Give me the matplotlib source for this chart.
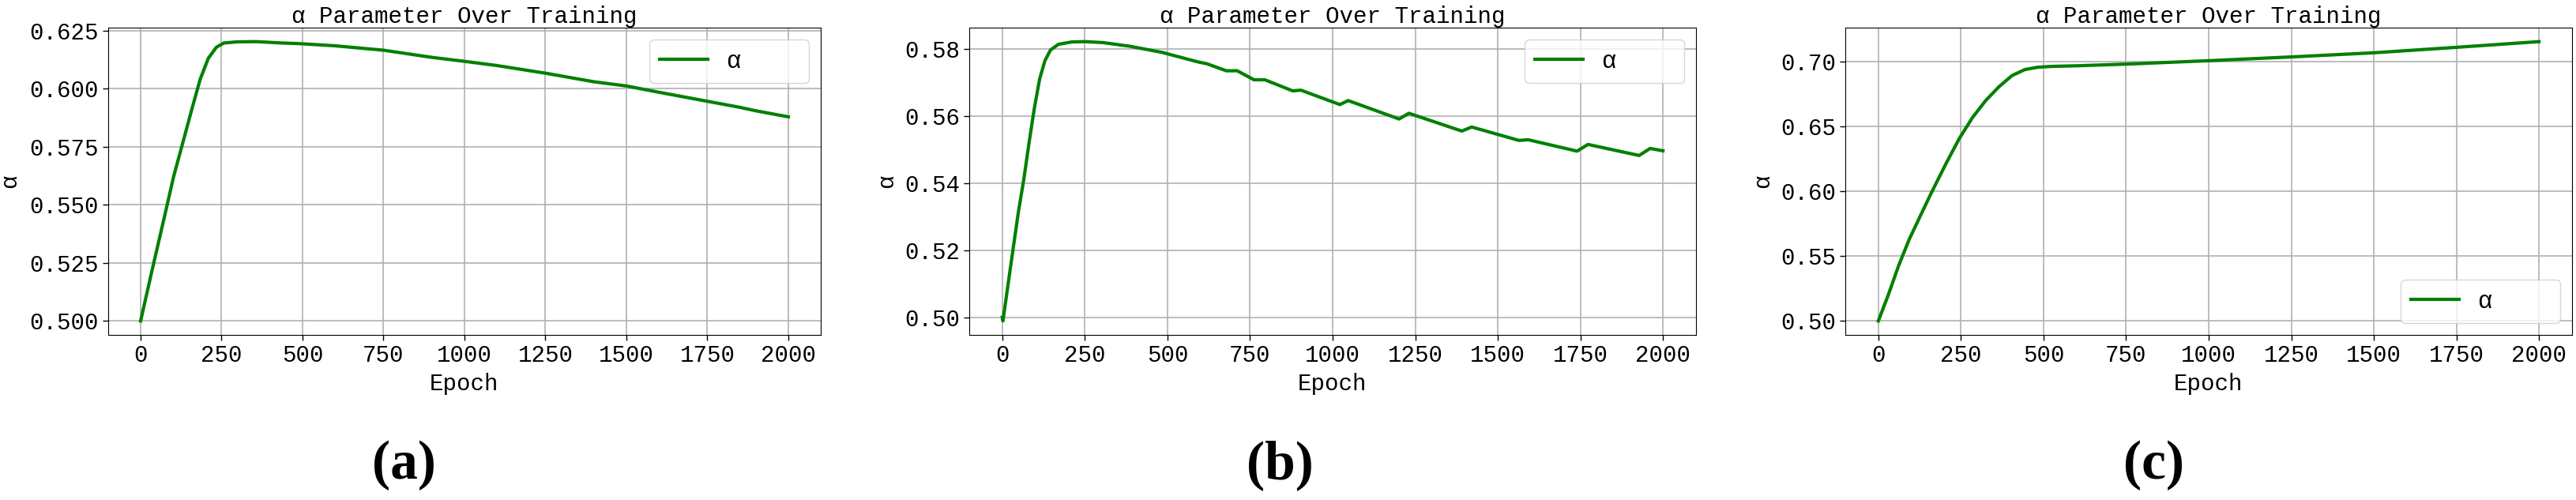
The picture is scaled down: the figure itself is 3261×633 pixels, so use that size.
import matplotlib
matplotlib.use("Agg")
import matplotlib.pyplot as plt

plt.rcParams['font.family'] = ['Liberation Mono', 'DejaVu Sans Mono']
plt.rcParams['font.size'] = 21

# run (a)
epoch_a = [0, 36, 69, 102, 135, 159, 184, 209, 234, 257, 298, 356, 438, 495, 600, 750,
           900, 1000, 1100, 1250, 1400, 1500, 1600, 1750, 1850, 1900, 2000]
alpha_a = [0.500, 0.5222, 0.5421, 0.5622, 0.5792, 0.5916, 0.6041, 0.6131, 0.6179, 0.6197,
           0.6202, 0.6203, 0.6197, 0.6194, 0.6185, 0.6166, 0.6135, 0.6118, 0.6100, 0.6067,
           0.6030, 0.6012, 0.5985, 0.5946, 0.5920, 0.5905, 0.5879]

# run (b)
epoch_b = [0, 2, 17, 33, 49, 65, 81, 97, 113, 129, 146, 170, 210, 250, 306, 387, 483, 594,
           619, 678, 711, 762, 795, 879, 904, 1022, 1047, 1201, 1231, 1391, 1421, 1564,
           1592, 1740, 1773, 1928, 1961, 2000]
alpha_b = [0.500, 0.4989, 0.5095, 0.5206, 0.5316, 0.5411, 0.5521, 0.5624, 0.5711, 0.5766,
           0.5798, 0.5815, 0.5822, 0.5823, 0.5820, 0.5809, 0.5791, 0.5762, 0.5757, 0.5736,
           0.5736, 0.5709, 0.5709, 0.5676, 0.5678, 0.5635, 0.5647, 0.5592, 0.5609, 0.5556,
           0.5568, 0.5528, 0.5530, 0.5496, 0.5516, 0.5483, 0.5504, 0.5497]

# run (c)
epoch_c = [0, 30, 61, 93, 125, 161, 205, 245, 285, 325, 365, 405, 444, 484, 524, 604,
           764, 1000, 1250, 1500, 1750, 2000]
alpha_c = [0.500, 0.520, 0.5423, 0.5626, 0.5798, 0.5990, 0.6213, 0.6405, 0.6567, 0.6698,
           0.6804, 0.6891, 0.6937, 0.6955, 0.6961, 0.6966, 0.698, 0.7005, 0.7034, 0.7066,
           0.7108, 0.7152]

xticks = [0, 250, 500, 750, 1000, 1250, 1500, 1750, 2000]

panels = [
    (epoch_a, alpha_a, [0.500, 0.525, 0.550, 0.575, 0.600, 0.625], '%.3f', 'upper right', '(a)'),
    (epoch_b, alpha_b, [0.50, 0.52, 0.54, 0.56, 0.58], '%.2f', 'upper right', '(b)'),
    (epoch_c, alpha_c, [0.50, 0.55, 0.60, 0.65, 0.70], '%.2f', 'lower right', '(c)'),
]

W, H = 3262, 633
fig = plt.figure(figsize=(W / 100, H / 100), dpi=100)

# axes boxes in pixels: left, right, top, bottom
boxes = [(137, 1039, 35, 424), (1227, 2147, 35, 424), (2336, 3256, 35, 424)]
ylab_x = [-0.123, -0.099, -0.099]
caption_x = [511, 1620, 2727]

for i, (ep, al, yt, fmt, loc, cap) in enumerate(panels):
    l, r, t, b = boxes[i]
    ax = fig.add_axes([l / W, (H - b) / H, (r - l) / W, (b - t) / H])
    ax.plot(ep, al, color='green', lw=3, label='α    ')
    ax.set_xticks(xticks)
    ax.set_yticks(yt)
    ax.yaxis.set_major_formatter(matplotlib.ticker.FormatStrFormatter(fmt))
    ax.grid(True, color='#b0b0b0', lw=1.2)
    ax.set_title('α Parameter Over Training', fontsize=21, pad=4)
    ax.set_xlabel('Epoch', labelpad=6)
    ax.set_ylabel('α')
    ax.yaxis.set_label_coords(ylab_x[i], 0.5)
    ax.tick_params(length=5, width=1)
    ax.legend(loc=loc, fontsize=22)
    fig.text(caption_x[i] / W, (H - 589) / H, cap, ha='center', va='center',
             fontsize=50, fontweight='bold', family='Liberation Serif')

fig.savefig('out.png', dpi=100)
